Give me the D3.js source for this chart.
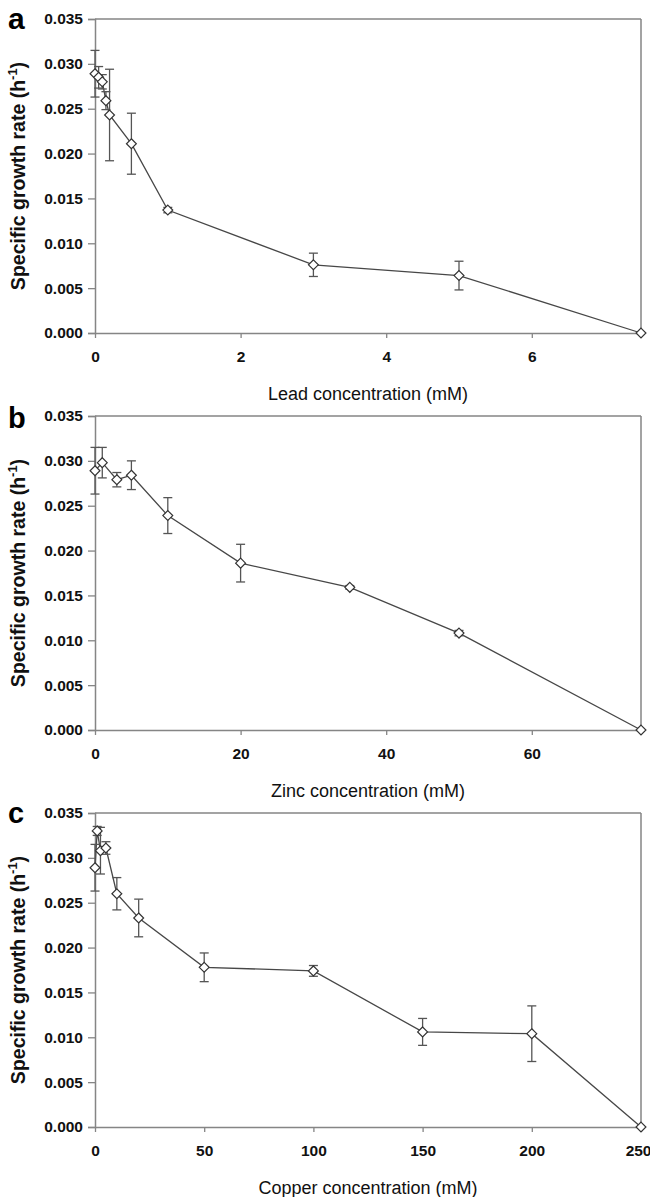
<!DOCTYPE html>
<html>
<head>
<meta charset="utf-8">
<script src="https://cdn.jsdelivr.net/npm/d3@7"></script>
<style>
  html, body { margin: 0; padding: 0; background: #fff; }
  svg { display: block; font-family: "Liberation Sans", Arial, sans-serif; }
</style>
</head>
<body>
<svg id="chart" width="650" height="1197"></svg>
<script>
// ---- Data ----
const leadConc = [0, 0.05, 0.1, 0.15, 0.2, 0.5, 1, 3, 5, 7.5];
const leadRate = [0.0289, 0.0285, 0.0280, 0.0259, 0.0243, 0.0211, 0.0137, 0.0076, 0.0064, 0.0];
const leadErr  = [0.0026, 0.0012, 0.0008, 0.0010, 0.0051, 0.0034, 0.0003, 0.0013, 0.0016, 0.0];

const zincConc = [0, 1, 3, 5, 10, 20, 35, 50, 75];
const zincRate = [0.0289, 0.0298, 0.0279, 0.0284, 0.0239, 0.0186, 0.0159, 0.0108, 0.0];
const zincErr  = [0.0026, 0.0017, 0.0008, 0.0016, 0.0020, 0.0021, 0.0002, 0.0003, 0.0];

const copperConc = [0, 1, 2.5, 5, 10, 20, 50, 100, 150, 200, 250];
const copperRate = [0.0289, 0.0330, 0.0308, 0.0311, 0.0260, 0.0233, 0.0178, 0.0174, 0.0106, 0.0104, 0.0];
const copperErr  = [0.0026, 0.0005, 0.0026, 0.0007, 0.0018, 0.0021, 0.0016, 0.0006, 0.0015, 0.0031, 0.0];

const yTicks = [0, 0.005, 0.010, 0.015, 0.020, 0.025, 0.030, 0.035];
const leadTicks = [0, 2, 4, 6];
const zincTicks = [0, 20, 40, 60];
const copperTicks = [0, 50, 100, 150, 200, 250];

const panelLetters = ["a", "b", "c"];
const xTitles = ["Lead concentration (mM)", "Zinc concentration (mM)", "Copper concentration (mM)"];

const panels = [
  {letter: panelLetters[0], conc: leadConc, rate: leadRate, err: leadErr, xMax: 7.5, ticks: leadTicks, title: xTitles[0], top: 19, letterSize: 30, letterDy: 10},
  {letter: panelLetters[1], conc: zincConc, rate: zincRate, err: zincErr, xMax: 75, ticks: zincTicks, title: xTitles[1], top: 416, letterSize: 29, letterDy: 12},
  {letter: panelLetters[2], conc: copperConc, rate: copperRate, err: copperErr, xMax: 250, ticks: copperTicks, title: xTitles[2], top: 813, letterSize: 29, letterDy: 10}
];

const svg = d3.select("#chart");
const left = 95, right = 641, plotH = 314;
const axisColor = "#858585";
const lineColor = "#474747";

panels.forEach(p => {
  const top = p.top, bottom = top + plotH;
  const x = d3.scaleLinear().domain([0, p.xMax]).range([left, right]);
  const y = d3.scaleLinear().domain([0, 0.035]).range([bottom, top]);
  const g = svg.append("g");

  // frame (top and right)
  g.append("line").attr("x1", left).attr("x2", right).attr("y1", top).attr("y2", top)
    .attr("stroke", axisColor).attr("stroke-width", 1.5);
  g.append("line").attr("x1", right).attr("x2", right).attr("y1", top).attr("y2", bottom)
    .attr("stroke", axisColor).attr("stroke-width", 1.5);

  // y axis
  const yAxis = g.append("g").attr("transform", `translate(${left},0)`)
    .call(d3.axisLeft(y).tickValues(yTicks).tickFormat(d3.format(".3f")).tickSize(7).tickPadding(5));
  yAxis.select(".domain").attr("stroke", axisColor).attr("stroke-width", 1.5);
  yAxis.selectAll(".tick line").attr("stroke", axisColor).attr("stroke-width", 1.3);
  yAxis.selectAll(".tick text").attr("font-size", 15.5).attr("font-weight", "bold").attr("fill", "#111");

  // x axis
  const xAxis = g.append("g").attr("transform", `translate(0,${bottom})`)
    .call(d3.axisBottom(x).tickValues(p.ticks).tickFormat(d3.format("d")).tickSize(5).tickSizeOuter(0).tickPadding(13));
  xAxis.select(".domain").attr("stroke", axisColor).attr("stroke-width", 1.5);
  xAxis.selectAll(".tick line").attr("stroke", axisColor).attr("stroke-width", 1.3);
  xAxis.selectAll(".tick text").attr("font-size", 15.5).attr("font-weight", "bold").attr("fill", "#111");
  // keep the last label inside the picture
  xAxis.selectAll(".tick text").filter(d => x(d) > 630)
    .attr("text-anchor", "end").attr("x", 10);

  // x title
  g.append("text").attr("x", (left + right) / 2).attr("y", bottom + 67)
    .attr("text-anchor", "middle").attr("font-size", 18).attr("fill", "#111")
    .text(p.title);

  // y title
  const yt = g.append("text")
    .attr("transform", `translate(25,${(top + bottom) / 2}) rotate(-90)`)
    .attr("text-anchor", "middle").attr("font-size", 19.5).attr("font-weight", "bold").attr("fill", "#111");
  yt.append("tspan").text("Specific growth rate (h");
  yt.append("tspan").attr("dy", -8).attr("font-size", 13).text("-1");
  yt.append("tspan").attr("dy", 8).text(")");

  // panel letter
  g.append("text").attr("x", 8).attr("y", top + p.letterDy).attr("font-size", p.letterSize)
    .attr("font-weight", "bold").attr("fill", "#000").text(p.letter);

  const data = p.conc.map((c, i) => ({c, r: p.rate[i], e: p.err[i]}));

  // connecting line
  g.append("path").datum(data)
    .attr("d", d3.line().x(d => x(d.c)).y(d => y(d.r)))
    .attr("fill", "none").attr("stroke", lineColor).attr("stroke-width", 1.3);

  // error bars
  const eb = g.append("g").attr("stroke", "#555").attr("stroke-width", 1.3);
  data.filter(d => d.e > 0).forEach(d => {
    const cx = x(d.c), y1 = y(d.r + d.e), y2 = y(d.r - d.e);
    eb.append("line").attr("x1", cx).attr("x2", cx).attr("y1", y1).attr("y2", y2);
    eb.append("line").attr("x1", cx - 4.5).attr("x2", cx + 4.5).attr("y1", y1).attr("y2", y1);
    eb.append("line").attr("x1", cx - 4.5).attr("x2", cx + 4.5).attr("y1", y2).attr("y2", y2);
  });

  // diamond markers
  g.selectAll("path.pt").data(data).join("path").attr("class", "pt")
    .attr("d", d3.symbol().type(d3.symbolDiamond2).size(62))
    .attr("transform", d => `translate(${x(d.c)},${y(d.r)})`)
    .attr("fill", "#fff").attr("stroke", "#333").attr("stroke-width", 1.2);
});
</script>
</body>
</html>
